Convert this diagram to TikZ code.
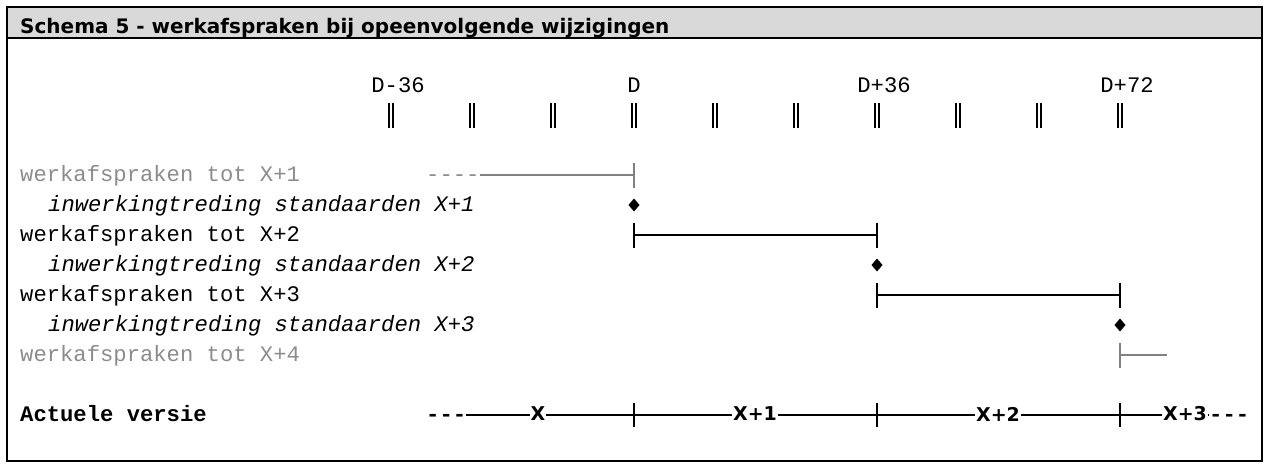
\documentclass[tikz,border=0pt]{standalone}
\usepackage{fontspec}
\setmainfont{Liberation Mono}
\newfontfamily\monofont{Liberation Mono}
\newfontfamily\titlefont{DejaVu Sans Bold}
\definecolor{bandgray}{RGB}{217,217,217}
\definecolor{txtgray}{RGB}{140,140,140}
\definecolor{lngray}{RGB}{128,128,128}
\begin{document}
\begin{tikzpicture}[x=1pt,y=-1pt,
  mono/.style={font=\fontsize{22.2}{26}\selectfont\monofont, inner sep=0pt, anchor=base west},
  monoit/.style={font=\fontsize{22.2}{26}\selectfont\monofont\itshape, inner sep=0pt, anchor=base west},
  monobf/.style={font=\fontsize{22.2}{26}\selectfont\monofont\bfseries, inner sep=0pt, anchor=base west},
  ticklbl/.style={font=\fontsize{22.2}{26}\selectfont\monofont, inner sep=0pt, anchor=base},
  vlbl/.style={font=\fontsize{19}{22}\selectfont\titlefont, inner xsep=0.5pt, inner ysep=0pt, fill=white},
  span/.style={line width=2.5pt, black},
  gspan/.style={line width=2.5pt, lngray},
  dtick/.style={line width=1.7pt, black},
  diam/.style={fill=black, draw=none}
]
\useasboundingbox (0,0) rectangle (1269,469);
% frame and title band
\fill[bandgray] (7,7) rectangle (1262,38);
\draw[line width=1.2pt] (7,7) rectangle (1262,461);
\draw[line width=1.2pt] (7,38) -- (1262,38);
\node[font=\fontsize{20}{22}\selectfont\titlefont, inner sep=0pt, anchor=base west] (title) at (20,33) {Schema 5 - werkafspraken bij opeenvolgende wijzigingen};

% top ruler: double ticks
\foreach \i/\x in {0/391,1/472,2/553,3/634,4/715,5/796,6/877,7/958,8/1039,9/1120}{
  \coordinate (t\i) at (\x,116);
  \draw[dtick] ([xshift=-1.8pt]t\i) +(0,-13) -- +(0,12);
  \draw[dtick] ([xshift=1.8pt]t\i) +(0,-13) -- +(0,12);
}
\node[ticklbl] (l0) at (398,92) {D-36};
\node[ticklbl] (l3) at (634,92) {D};
\node[ticklbl] (l6) at (884,92) {D+36};
\node[ticklbl] (l9) at (1127,92) {D+72};

% row labels
\node[mono, text=txtgray] (r1) at (20,181) {werkafspraken tot X+1};
\node[monoit] (r2) at (48,211) {inwerkingtreding standaarden X+1};
\node[mono] (r3) at (20,241) {werkafspraken tot X+2};
\node[monoit] (r4) at (48,271) {inwerkingtreding standaarden X+2};
\node[mono] (r5) at (20,301) {werkafspraken tot X+3};
\node[monoit] (r6) at (48,331) {inwerkingtreding standaarden X+3};
\node[mono, text=txtgray] (r7) at (20,361) {werkafspraken tot X+4};
\node[monobf] (r8) at (20,421) {Actuele versie};

% row 1 (gray)
\node[mono, text=txtgray] (d1) at (426,181) {----};
\coordinate (a1) at (634,175);
\draw[gspan] (d1.east |- a1) -- (a1);
\draw[gspan] (a1) +(0,-12.5) -- +(0,12.5);

% diamonds
\foreach \n/\x/\y in {m1/634/205, m2/877/265, m3/1120/325}{
  \coordinate (\n) at (\x,\y);
  \fill[diam] (\n) +(0,-6.5) -- +(5.5,0) -- +(0,6.5) -- +(-5.5,0) -- cycle;
}

% row 3
\coordinate (b1) at (634,235);
\coordinate (b2) at (877,235);
\draw[span] (b1) -- (b2);
\draw[span] (b1) +(0,-12.5) -- +(0,12.5);
\draw[span] (b2) +(0,-12.5) -- +(0,12.5);

% row 5
\coordinate (c1) at (877,295);
\coordinate (c2) at (1120,295);
\draw[span] (c1) -- (c2);
\draw[span] (c1) +(0,-12.5) -- +(0,12.5);
\draw[span] (c2) +(0,-12.5) -- +(0,12.5);

% row 7 (gray)
\coordinate (e1) at (1120,355);
\coordinate (e2) at (1167,355);
\draw[gspan] (e1) -- (e2);
\draw[gspan] (e1) +(0,-12.5) -- +(0,12.5);

% bottom: actuele versie
\node[monobf] (s0) at (426,421) {---};
\node[vlbl] (v0) at (538,414) {X};
\node[vlbl] (v1) at (755,414) {X+1};
\node[vlbl] (v2) at (998,414) {X+2};
\node[vlbl] (v3) at (1185,414) {X+3};
\node[monobf] (s1) at (1209,421) {---};
\coordinate (k1) at (634,415);
\coordinate (k2) at (877,415);
\coordinate (k3) at (1120,415);
\draw[line width=2pt] (s0.east |- k1) -- (v0.west |- k1);
\draw[line width=2pt] (v0.east |- k1) -- (k1) -- (v1.west |- k1);
\draw[line width=2pt] (v1.east |- k1) -- (k2) -- (v2.west |- k1);
\draw[line width=2pt] (v2.east |- k1) -- (k3) -- (v3.west |- k1);
\draw[line width=2pt] (v3.east |- k1) -- (s1.west |- k1);
\foreach \k in {k1,k2,k3}{
  \draw[line width=2pt] (\k) +(0,-12) -- +(0,12);
}
\end{tikzpicture}
\end{document}
